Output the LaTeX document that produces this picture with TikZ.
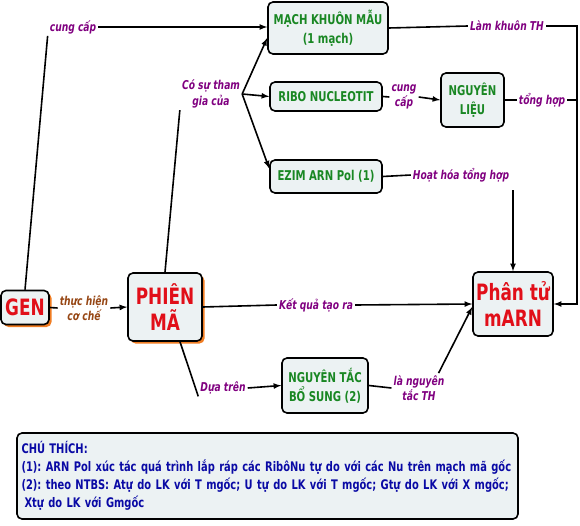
\documentclass[tikz,border=0pt]{standalone}
\usepackage{fontspec}
\setmainfont[FakeStretch=0.75]{DejaVu Sans}
\usetikzlibrary{shadows}
\definecolor{labelpurple}{RGB}{128,0,128}
\definecolor{bronze}{RGB}{150,70,20}
\definecolor{leafgreen}{RGB}{25,135,35}
\definecolor{genred}{RGB}{225,15,25}
\definecolor{inkblue}{RGB}{10,10,165}
\definecolor{boxfill}{RGB}{236,242,243}
\definecolor{shadoworange}{RGB}{240,125,35}

\begin{document}
\frenchspacing
\begin{tikzpicture}[x=1pt,y=-1pt,
  box/.style={draw,line width=1.6pt,rounded corners=5pt,fill=boxfill,align=center,inner sep=0pt},
  big/.style={box,text=genred,font=\bfseries\fontsize{22.5}{26}\selectfont},
  mid/.style={box,text=leafgreen,font=\bfseries\fontsize{13.5}{19}\selectfont},
  lbl/.style={text=labelpurple,align=center,inner sep=2pt,font=\bfseries\itshape\fontsize{12.2}{15.5}\selectfont},
  orangeshadow/.style={drop shadow={shadow xshift=2.5pt,shadow yshift=-2.5pt,fill=shadoworange,opacity=1}},
  link/.style={line width=1.6pt,>=latex}]
\useasboundingbox (0,0) rectangle (580,526);
% cac khoi
\node [big,orangeshadow,minimum width=48,minimum height=34] (gen) at (25,307.5) {GEN};
\node [big,orangeshadow,minimum width=74,minimum height=68] (phien) at (165,307) {PHIÊN\\MÃ};
\node [big,minimum width=80,minimum height=64] (marn) at (513,304) {Phân tử\\mARN};
\node [mid,minimum width=120,minimum height=52] (mach) at (328,28) {MẠCH KHUÔN MẪU\\(1 mạch)};
\node [mid,minimum width=112,minimum height=29] (ribo) at (326,96.5) {RIBO NUCLEOTIT};
\node [mid,minimum width=63,minimum height=54] (nglieu) at (472.5,100) {NGUYÊN\\LIỆU};
\node [mid,minimum width=112,minimum height=33] (ezim) at (326,176.5) {EZIM ARN Pol (1)};
\node [mid,minimum width=86,minimum height=55] (ntbs) at (325,385.5) {NGUYÊN TẮC\\BỔ SUNG (2)};
% nhan
\node [lbl] (lcung) at (73,27) {cung cấp};
\node [lbl,text=bronze] (lthuc) at (84,308) {thực hiện\\cơ chế};
\node [lbl] (lthamgia) at (211,94) {Có sự tham\\gia của};
\node [lbl] (lket) at (316,305) {Kết quả tạo ra};
\node [lbl] (ldua) at (223,388) {Dựa trên};
\node [lbl] (lnguyen) at (419,388) {là nguyên\\tắc TH};
\node [lbl] (lcungcap) at (404,97) {cung\\cấp};
\node [lbl] (ltong) at (542,100) {tổng hợp};
\node [lbl] (llam) at (507,26) {Làm khuôn TH};
\node [lbl] (lhoat) at (461,175) {Hoạt hóa tổng hợp};
\coordinate (rbot) at (577,304);
% duong noi
\draw [link] (gen.north) -- (lcung.south west);
\draw [link,->] (lcung.east) -- (lcung.east -| mach.west);
\draw [link] (gen.east) -- (lthuc.west);
\draw [link,->] (lthuc.east) -- (phien.west);
\draw [link] (phien.north) -- (lthamgia.south west);
\draw [link,->] (lthamgia.east) -- ([yshift=-10pt]mach.west);
\draw [link,->] (lthamgia.east) -- (ribo.west);
\draw [link,->] (lthamgia.east) -- ([yshift=8pt]ezim.west);
\draw [link] (phien.east) -- (lket.west);
\draw [link,->] (lket.east) -- (marn.west);
\draw [link] ([xshift=15pt]phien.south) -- (ldua.south west);
\draw [link,->] (ldua.east) -- (ntbs.west);
\draw [link] (ntbs.east) -- (lnguyen.west);
\draw [link,->] ([xshift=-8pt]lnguyen.north east) -- ([yshift=-3pt]marn.west);
\draw [link] (ribo.east) -- (lcungcap.west);
\draw [link,->] (lcungcap.east) -- (nglieu.west);
\draw [link] (nglieu.east) -- (ltong.west);
\draw [link] (ltong.east) -- (ltong.east -| rbot);
\draw [link] (mach.east) -- (llam.west);
\draw [link,->] (llam.east) -| (rbot) -- (marn.east);
\draw [link] (ezim.east) -- (lhoat.west);
\draw [link,->] ([yshift=-6pt]marn.north |- lhoat.south) -- (marn.north);
% chu thich
\node [box,minimum width=501,minimum height=86,text width=492,align=left,text=inkblue,
  font=\bfseries\fontsize{13.2}{18}\selectfont] (chuthich) at (267.5,476)
  {CHÚ THÍCH:\\
  (1): ARN Pol xúc tác quá trình lắp ráp các RibôNu tự do với các Nu trên mạch mã gốc\\
  (2): theo NTBS: Atự do LK với T mgốc; U tự do LK với T mgốc; Gtự do LK với X mgốc;\\
  \hspace*{3pt}Xtự do LK với Gmgốc};
\end{tikzpicture}
\end{document}
